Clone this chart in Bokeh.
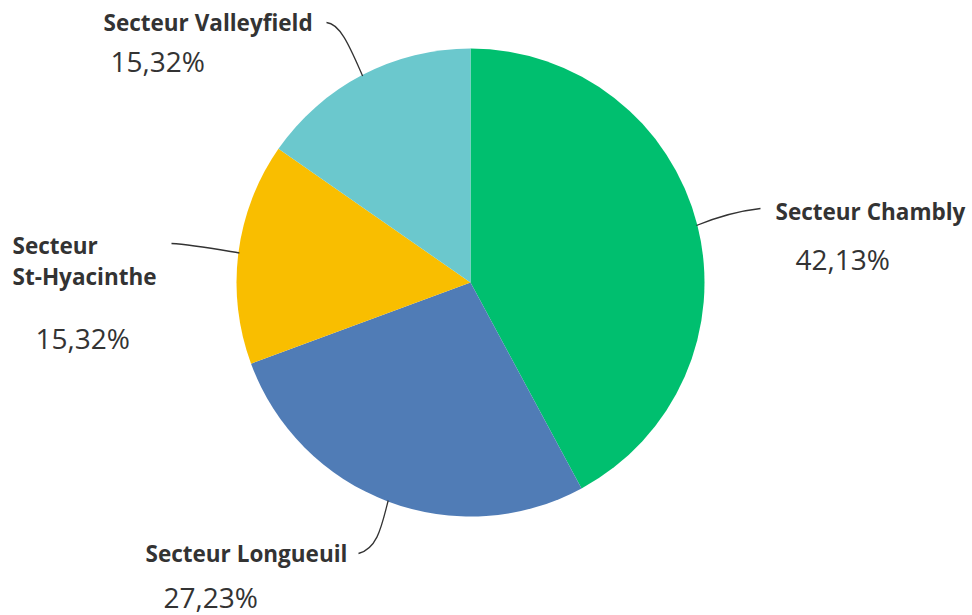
import math
from bokeh.plotting import figure
from bokeh.models import Range1d, ColumnDataSource
from bokeh.core.properties import value
from bokeh.embed import file_html
from bokeh.resources import INLINE

# ---- data ----
sectors = ["Secteur Chambly", "Secteur Longueuil", "Secteur\nSt-Hyacinthe", "Secteur Valleyfield"]
shares = [42.13, 27.23, 15.32, 15.32]
pct_labels = ["42,13%", "27,23%", "15,32%", "15,32%"]
colors = ["#00BF6F", "#507CB6", "#F9BE00", "#6BC8CD"]

# ---- layout (page pixel coordinates, y downward) ----
W, H = 972, 615
CX, CY, R = 470, 282, 234
# label anchor (left x, center y of first line), pct anchor (left x, center y)
label_pos = [(775, 211), (145, 553), (12, 245), (103, 22)]
pct_pos = [(795, 258), (163, 596), (35, 337), (110, 60)]
# leader end point and control points
leader_end = [(760, 208), (358, 553), (171, 243), (326, 22)]
leader_c0 = [(718, 216), (381, 526), (212, 248), (350, 48)]
leader_c1 = [(742, 210), (377, 548), (190, 244), (340, 23)]


def Y(y):
    return H - y


p = figure(width=W, height=H, output_backend="svg", toolbar_location=None,
           x_range=Range1d(0, W), y_range=Range1d(0, H), min_border=0)
p.axis.visible = False
p.grid.visible = False
p.outline_line_color = None
p.background_fill_color = "white"
p.border_fill_color = "white"

total = sum(shares)
starts, ends, mids = [], [], []
a = math.pi / 2
for s in shares:
    span = s / total * 2 * math.pi
    starts.append(a)
    ends.append(a - span)
    mids.append(a - span / 2)
    a -= span

src = ColumnDataSource(dict(start=starts, end=ends, color=colors,
                            x=[CX] * 4, y=[Y(CY)] * 4))
p.wedge(x="x", y="y", radius=R, start_angle="start", end_angle="end",
        direction="clock", fill_color="color", line_color=None, source=src)

# leaders
bx0, by0, bx1, by1, c0x, c0y, c1x, c1y = [], [], [], [], [], [], [], []
for i, m in enumerate(mids):
    sx = CX + (R - 1) * math.cos(m)
    sy = CY - (R - 1) * math.sin(m)
    bx0.append(sx); by0.append(Y(sy))
    bx1.append(leader_end[i][0]); by1.append(Y(leader_end[i][1]))
    c0x.append(leader_c0[i][0]); c0y.append(Y(leader_c0[i][1]))
    c1x.append(leader_c1[i][0]); c1y.append(Y(leader_c1[i][1]))
p.bezier(x0=bx0, y0=by0, x1=bx1, y1=by1, cx0=c0x, cy0=c0y, cx1=c1x, cy1=c1y,
         line_color="#333333", line_width=1.3)

# labels
lx, ly, lt = [], [], []
for i, name in enumerate(sectors):
    for j, line in enumerate(name.split("\n")):
        lx.append(label_pos[i][0])
        ly.append(Y(label_pos[i][1] + j * 31))
        lt.append(line)
p.text(x=lx, y=ly, text=lt, text_font=value("Open Sans"), text_font_style="bold",
       text_font_size="22.5px", text_color="#333333", text_baseline="middle",
       text_align="left")

p.text(x=[q[0] for q in pct_pos], y=[Y(q[1]) for q in pct_pos], text=pct_labels,
       text_font=value("Open Sans"), text_font_size="28px", text_color="#333333",
       text_baseline="middle", text_align="left")

open("out.html", "w").write(file_html(p, INLINE))
